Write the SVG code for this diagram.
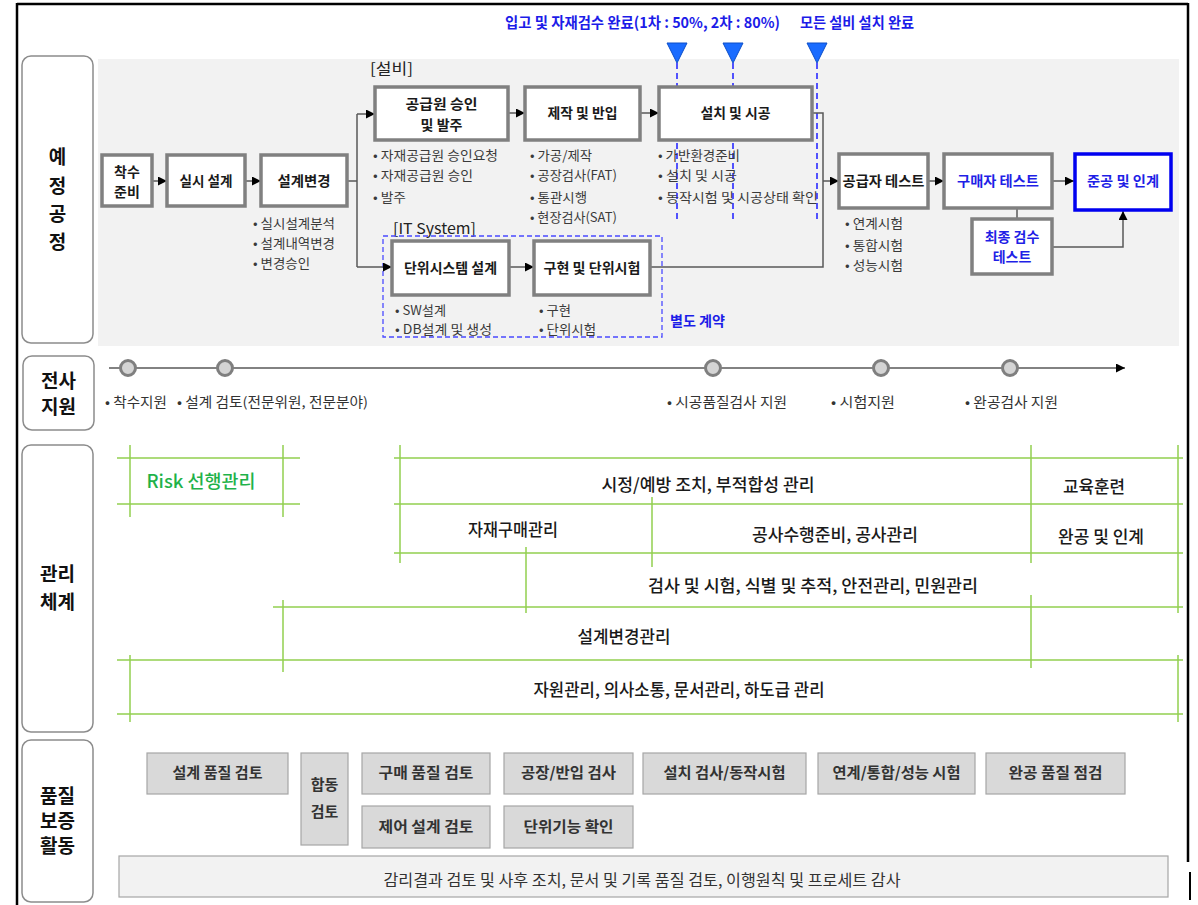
<svg xmlns="http://www.w3.org/2000/svg" width="1198" height="905" viewBox="0 0 1198 905">
<defs>
<marker id="ar" viewBox="0 0 10 10" refX="10" refY="5" markerWidth="9" markerHeight="9" markerUnits="userSpaceOnUse" orient="auto"><path d="M0,0 L10,5 L0,10 z" fill="#000"/></marker>
<style>
text{font-family:"Noto Sans CJK KR","Noto Sans",sans-serif}
.lbox{fill:#fff;stroke:#8c8c8c;stroke-width:1.5}
.lt{font-size:19px;font-weight:bold;fill:#111;text-anchor:middle}
.box{fill:#fff;stroke:#808080;stroke-width:3.5}
.bt{font-size:14px;font-weight:bold;fill:#1a1a1a;text-anchor:middle}
.blue{fill:#1f1fe6}
.bl{font-size:13px;fill:#3a3a3a}
.con{fill:none;stroke:#595959;stroke-width:1.5}
.ms{fill:#1a6cff;stroke:#0d4fc8;stroke-width:1}
.msl{stroke:#2a2aff;stroke-width:1.6;stroke-dasharray:6 4;fill:none}
.mst{font-size:15px;font-weight:bold;fill:#1c1ce8}
.cir{fill:#d4d4d4;stroke:#7f7f7f;stroke-width:3}
.tl{font-size:13.5px;fill:#333}
.g{stroke:#92d050;stroke-width:1.5;fill:none}
.mt{font-size:17px;font-weight:500;fill:#1a1a1a;text-anchor:middle}
.qb{fill:#d9d9d9;stroke:#a6a6a6;stroke-width:1.2}
.qt{font-size:15px;font-weight:bold;fill:#333;text-anchor:middle}
</style>
</defs>
<rect width="1198" height="905" fill="#fff"/>
<g id="frame" stroke="#000" fill="none">
<path d="M17,4 H1188" stroke-width="2.5"/>
<path d="M17,3 V905" stroke-width="2.5"/>
<path d="M1188,3 V862" stroke-width="2.5"/>
<path d="M1190,872 V900" stroke-width="2"/>
</g>
<rect x="98" y="59" width="1081" height="287" fill="#f2f2f2"/>
<g id="row-labels">
<g id="lbl-plan"><rect class="lbox" x="22" y="56" width="71" height="287" rx="9"/>
<text class="lt" x="57.5" y="164">예</text><text class="lt" x="57.5" y="193">정</text><text class="lt" x="57.5" y="221">공</text><text class="lt" x="57.5" y="249">정</text></g>
<g id="lbl-support"><rect class="lbox" x="23" y="356" width="71" height="74" rx="9"/>
<text class="lt" x="58.5" y="388">전사</text><text class="lt" x="58.5" y="414">지원</text></g>
<g id="lbl-mgmt"><rect class="lbox" x="22" y="445" width="71" height="287" rx="9"/>
<text class="lt" x="57.5" y="581">관리</text><text class="lt" x="57.5" y="609">체계</text></g>
<g id="lbl-qa"><rect class="lbox" x="22" y="740" width="71" height="162" rx="9"/>
<text class="lt" x="57.5" y="803">품질</text><text class="lt" x="57.5" y="828">보증</text><text class="lt" x="57.5" y="853">활동</text></g>
</g>
<g id="milestones">
<text class="mst" x="505" y="28" textLength="275" lengthAdjust="spacingAndGlyphs">입고 및 자재검수 완료(1차 : 50%, 2차 : 80%)</text>
<text class="mst" x="800" y="28" textLength="114" lengthAdjust="spacingAndGlyphs">모든 설비 설치 완료</text>
<path class="msl" d="M677,63 V220 M733,63 V220 M817,63 V220"/>
<polygon class="ms" points="667,43 687,43 677,63"/>
<polygon class="ms" points="723,43 743,43 733,63"/>
<polygon class="ms" points="807,43 827,43 817,63"/>
</g>
<text x="370" y="74" font-size="15" fill="#222" textLength="43" lengthAdjust="spacingAndGlyphs">[설비]</text>
<text x="393" y="234" font-size="15" fill="#222" textLength="83" lengthAdjust="spacingAndGlyphs">[IT System]</text>
<rect x="383" y="236" width="279" height="101" fill="none" stroke="#4a4aff" stroke-width="1.3" stroke-dasharray="5 3"/>
<text x="670" y="326" font-size="14" font-weight="bold" fill="#1c1ce8" textLength="55" lengthAdjust="spacingAndGlyphs">별도 계약</text>
<g id="connectors">
<path class="con" d="M152,181 H167" marker-end="url(#ar)"/>
<path class="con" d="M245,181 H261" marker-end="url(#ar)"/>
<path class="con" d="M347,181 H357 M357,114 V267"/>
<path class="con" d="M357,114 H375" marker-end="url(#ar)"/>
<path class="con" d="M357,267 H392" marker-end="url(#ar)"/>
<path class="con" d="M508,113 H525" marker-end="url(#ar)"/>
<path class="con" d="M640,113 H659" marker-end="url(#ar)"/>
<path class="con" d="M509,267 H534" marker-end="url(#ar)"/>
<path class="con" d="M812,113 H823 V267 H650"/>
<path class="con" d="M823,181 H839" marker-end="url(#ar)"/>
<path class="con" d="M928,181 H944" marker-end="url(#ar)"/>
<path class="con" d="M1052,181 H1074" marker-end="url(#ar)"/>
<path class="con" d="M1017,209 V218"/>
<path class="con" d="M1052,247 H1123 V211" marker-end="url(#ar)"/>
<path class="con" d="M109,368 H1125" marker-end="url(#ar)"/>
</g>
<g id="n-start"><rect class="box" x="102" y="155" width="50" height="51"/><text class="bt" x="127" y="177">착수</text><text class="bt" x="127" y="197">준비</text></g>
<g id="n-design"><rect class="box" x="167" y="155" width="78" height="51"/><text class="bt" x="206" y="186" textLength="53" lengthAdjust="spacingAndGlyphs">실시 설계</text></g>
<g id="n-change"><rect class="box" x="261" y="155" width="86" height="51"/><text class="bt" x="304" y="186" textLength="53" lengthAdjust="spacingAndGlyphs">설계변경</text></g>
<g id="n-supplier"><rect class="box" x="375" y="87" width="133" height="53"/><text class="bt" x="441.5" y="109" textLength="72" lengthAdjust="spacingAndGlyphs">공급원 승인</text><text class="bt" x="441.5" y="130">및 발주</text></g>
<g id="n-make"><rect class="box" x="525" y="87" width="115" height="53"/><text class="bt" x="582.5" y="118" textLength="70" lengthAdjust="spacingAndGlyphs">제작 및 반입</text></g>
<g id="n-install"><rect class="box" x="659" y="87" width="153" height="53"/><text class="bt" x="735.5" y="118" textLength="70" lengthAdjust="spacingAndGlyphs">설치 및 시공</text></g>
<g id="n-unitdesign"><rect class="box" x="392" y="241" width="117" height="54"/><text class="bt" x="450.5" y="273" textLength="93" lengthAdjust="spacingAndGlyphs">단위시스템 설계</text></g>
<g id="n-impl"><rect class="box" x="534" y="241" width="116" height="54"/><text class="bt" x="592" y="273" textLength="97" lengthAdjust="spacingAndGlyphs">구현 및 단위시험</text></g>
<g id="n-suptest"><rect class="box" x="839" y="154" width="89" height="54"/><text class="bt" x="883.5" y="186" textLength="82" lengthAdjust="spacingAndGlyphs">공급자 테스트</text></g>
<g id="n-buytest"><rect class="box" x="944" y="154" width="108" height="54"/><text class="bt blue" x="998" y="186" textLength="82" lengthAdjust="spacingAndGlyphs">구매자 테스트</text></g>
<g id="n-final"><rect class="box" x="972" y="219" width="80" height="55"/><text class="bt blue" x="1012" y="242">최종 검수</text><text class="bt blue" x="1012" y="262">테스트</text></g>
<g id="n-complete"><rect x="1075" y="154" width="96" height="56" fill="#fff" stroke="#0000f0" stroke-width="3.5"/><text class="bt blue" x="1123" y="186" textLength="72" lengthAdjust="spacingAndGlyphs">준공 및 인계</text></g>
<g id="bullets">
<text class="bl" x="253" y="228" textLength="82" lengthAdjust="spacingAndGlyphs">• 실시설계분석</text>
<text class="bl" x="253" y="248" textLength="82" lengthAdjust="spacingAndGlyphs">• 설계내역변경</text>
<text class="bl" x="253" y="268" textLength="57" lengthAdjust="spacingAndGlyphs">• 변경승인</text>
<text class="bl" x="373" y="160" textLength="125" lengthAdjust="spacingAndGlyphs">• 자재공급원 승인요청</text>
<text class="bl" x="373" y="180" textLength="100" lengthAdjust="spacingAndGlyphs">• 자재공급원 승인</text>
<text class="bl" x="373" y="202" textLength="33" lengthAdjust="spacingAndGlyphs">• 발주</text>
<text class="bl" x="530" y="160" textLength="62" lengthAdjust="spacingAndGlyphs">• 가공/제작</text>
<text class="bl" x="530" y="180" textLength="87" lengthAdjust="spacingAndGlyphs">• 공장검사(FAT)</text>
<text class="bl" x="530" y="202" textLength="57" lengthAdjust="spacingAndGlyphs">• 통관시행</text>
<text class="bl" x="530" y="222" textLength="87" lengthAdjust="spacingAndGlyphs">• 현장검사(SAT)</text>
<text class="bl" x="658" y="160" textLength="82" lengthAdjust="spacingAndGlyphs">• 가반환경준비</text>
<text class="bl" x="658" y="180" textLength="79" lengthAdjust="spacingAndGlyphs">• 설치 및 시공</text>
<text class="bl" x="658" y="202" textLength="160" lengthAdjust="spacingAndGlyphs">• 동작시험 및 시공상태 확인</text>
<text class="bl" x="395" y="315" textLength="51" lengthAdjust="spacingAndGlyphs">• SW설계</text>
<text class="bl" x="395" y="334" textLength="97" lengthAdjust="spacingAndGlyphs">• DB설계 및 생성</text>
<text class="bl" x="539" y="315" textLength="32" lengthAdjust="spacingAndGlyphs">• 구현</text>
<text class="bl" x="539" y="334" textLength="57" lengthAdjust="spacingAndGlyphs">• 단위시험</text>
<text class="bl" x="845" y="228" textLength="58" lengthAdjust="spacingAndGlyphs">• 연계시험</text>
<text class="bl" x="845" y="250" textLength="58" lengthAdjust="spacingAndGlyphs">• 통합시험</text>
<text class="bl" x="845" y="270" textLength="58" lengthAdjust="spacingAndGlyphs">• 성능시험</text>
</g>
<g id="timeline">
<circle class="cir" cx="128" cy="368" r="7.5"/>
<circle class="cir" cx="225" cy="368" r="7.5"/>
<circle class="cir" cx="713" cy="368" r="7.5"/>
<circle class="cir" cx="881" cy="368" r="7.5"/>
<circle class="cir" cx="1010" cy="368" r="7.5"/>
<text class="tl" x="105" y="407" textLength="62" lengthAdjust="spacingAndGlyphs">• 착수지원</text>
<text class="tl" x="177" y="407" textLength="191" lengthAdjust="spacingAndGlyphs">• 설계 검토(전문위원, 전문분야)</text>
<text class="tl" x="667" y="407" textLength="120" lengthAdjust="spacingAndGlyphs">• 시공품질검사 지원</text>
<text class="tl" x="831" y="407" textLength="64" lengthAdjust="spacingAndGlyphs">• 시험지원</text>
<text class="tl" x="965" y="407" textLength="93" lengthAdjust="spacingAndGlyphs">• 완공검사 지원</text>
</g>
<g id="management">
<path class="g" d="M117,458 H300 M117,504 H300 M130,445 V517 M283,445 V517"/>
<path class="g" d="M394,458 H1183 M394,504 H1183 M394,553 H1183 M273,607 H1183 M117,660 H1183 M117,714 H1183"/>
<path class="g" d="M400,445 V563 M652,497 V567 M526,547 V613 M283,600 V672 M130,655 V722 M1031,445 V563 M1031,595 V668 M1178,445 V613 M1178,655 V722"/>
<text x="201" y="488" font-size="18" font-weight="500" fill="#1fb24a" text-anchor="middle" textLength="109" lengthAdjust="spacingAndGlyphs">Risk 선행관리</text>
<text class="mt" x="708" y="491" textLength="213" lengthAdjust="spacingAndGlyphs">시정/예방 조치,  부적합성 관리</text>
<text class="mt" x="1094" y="493" textLength="62" lengthAdjust="spacingAndGlyphs">교육훈련</text>
<text class="mt" x="513" y="536" textLength="90" lengthAdjust="spacingAndGlyphs">자재구매관리</text>
<text class="mt" x="835" y="541" textLength="166" lengthAdjust="spacingAndGlyphs">공사수행준비, 공사관리</text>
<text class="mt" x="1101" y="543" textLength="86" lengthAdjust="spacingAndGlyphs">완공 및 인계</text>
<text class="mt" x="813" y="592" textLength="330" lengthAdjust="spacingAndGlyphs">검사 및 시험, 식별 및 추적,  안전관리,  민원관리</text>
<text class="mt" x="624" y="643" textLength="93" lengthAdjust="spacingAndGlyphs">설계변경관리</text>
<text class="mt" x="679" y="696" textLength="291" lengthAdjust="spacingAndGlyphs">자원관리, 의사소통, 문서관리, 하도급 관리</text>
</g>
<g id="qa">
<g id="q1"><rect class="qb" x="147" y="753" width="141" height="41"/><text class="qt" x="217.5" y="778" textLength="90" lengthAdjust="spacingAndGlyphs">설계 품질 검토</text></g>
<g id="q2"><rect class="qb" x="301" y="753" width="47" height="92"/><text class="qt" x="324.5" y="790">합동</text><text class="qt" x="324.5" y="817">검토</text></g>
<g id="q3"><rect class="qb" x="362" y="753" width="128" height="41"/><text class="qt" x="426" y="778" textLength="95" lengthAdjust="spacingAndGlyphs">구매 품질 검토</text></g>
<g id="q4"><rect class="qb" x="504" y="753" width="129" height="41"/><text class="qt" x="568.5" y="778" textLength="95" lengthAdjust="spacingAndGlyphs">공장/반입 검사</text></g>
<g id="q5"><rect class="qb" x="643" y="753" width="163" height="41"/><text class="qt" x="724.5" y="778" textLength="122" lengthAdjust="spacingAndGlyphs">설치 검사/동작시험</text></g>
<g id="q6"><rect class="qb" x="818" y="753" width="157" height="41"/><text class="qt" x="896.5" y="778" textLength="128" lengthAdjust="spacingAndGlyphs">연계/통합/성능 시험</text></g>
<g id="q7"><rect class="qb" x="986" y="753" width="139" height="41"/><text class="qt" x="1055.5" y="778" textLength="94" lengthAdjust="spacingAndGlyphs">완공 품질 점검</text></g>
<g id="q8"><rect class="qb" x="362" y="806" width="128" height="42"/><text class="qt" x="426" y="832" textLength="95" lengthAdjust="spacingAndGlyphs">제어 설계 검토</text></g>
<g id="q9"><rect class="qb" x="504" y="806" width="129" height="42"/><text class="qt" x="568.5" y="832" textLength="90" lengthAdjust="spacingAndGlyphs">단위기능 확인</text></g>
<g id="q10"><rect x="119" y="856" width="1049" height="41" fill="#f2f2f2" stroke="#a6a6a6" stroke-width="1.2"/><text x="642" y="886" font-size="16" fill="#333" text-anchor="middle" textLength="517" lengthAdjust="spacingAndGlyphs">감리결과 검토 및 사후 조치,  문서 및 기록 품질 검토,  이행원칙  및 프로세트  감사</text></g>
</g>
</svg>
